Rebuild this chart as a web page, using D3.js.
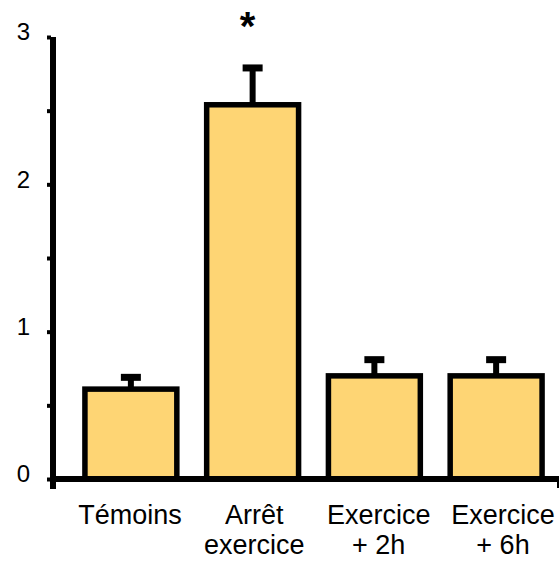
<!DOCTYPE html>
<html><head><meta charset="utf-8">
<script src="https://cdn.jsdelivr.net/npm/d3@7"></script>
<style>body{margin:0;background:#fff}svg{display:block}text{font-family:"Liberation Sans",Arial,sans-serif}</style>
</head><body>
<svg id="chart" width="560" height="561"></svg>
<script>
const categories = [["Témoins"], ["Arrêt", "exercice"], ["Exercice", "+ 2h"], ["Exercice", "+ 6h"]];
const values = [0.61, 2.54, 0.70, 0.70];
const errors = [0.08, 0.25, 0.11, 0.11];
const significant = [false, true, false, false];
const yTicks = [0, 0.5, 1, 1.5, 2, 2.5, 3];
const yTickLabels = ["0", "", "1", "", "2", "", "3"];

const svg = d3.select("#chart");
const y = d3.scaleLinear().domain([0, 3]).range([479, 37]);
const x = d3.scaleBand().domain(d3.range(categories.length)).range([70, 557]).paddingInner(0.2).paddingOuter(0.1);
const xLab = d3.scalePoint().domain(d3.range(categories.length)).range([130, 503]);
const sw = 5.5;

// bars
svg.selectAll("rect.bar").data(values).join("rect")
  .attr("class", "bar")
  .attr("x", (d, i) => x(i) + sw / 2)
  .attr("width", x.bandwidth() - sw)
  .attr("y", d => y(d))
  .attr("height", d => y(0) - y(d))
  .attr("fill", "#FED574").attr("stroke", "#000").attr("stroke-width", sw);

// error bars
const eb = svg.selectAll("g.err").data(values).join("g").attr("class", "err");
eb.append("line")
  .attr("x1", (d, i) => x(i) + x.bandwidth() / 2).attr("x2", (d, i) => x(i) + x.bandwidth() / 2)
  .attr("y1", d => y(d)).attr("y2", (d, i) => y(d + errors[i]))
  .attr("stroke", "#000").attr("stroke-width", 6);
eb.append("line")
  .attr("x1", (d, i) => x(i) + x.bandwidth() / 2 - 10).attr("x2", (d, i) => x(i) + x.bandwidth() / 2 + 10)
  .attr("y1", (d, i) => y(d + errors[i])).attr("y2", (d, i) => y(d + errors[i]))
  .attr("stroke", "#000").attr("stroke-width", 7);

// significance star
svg.selectAll("text.star").data(significant.map((s, i) => s ? i : -1).filter(i => i >= 0))
  .join("text").attr("class", "star")
  .attr("x", i => x(i) + x.bandwidth() / 2 - 5)
  .attr("y", 40)
  .attr("text-anchor", "middle").attr("font-size", 40).attr("font-weight", "bold").text("*");

// y axis
const yAxis = d3.axisLeft(y).tickValues(yTicks).tickSize(4).tickFormat((d, i) => yTickLabels[i]);
const gy = svg.append("g").attr("transform", "translate(51,0)").call(yAxis);
gy.select(".domain").remove();
gy.selectAll(".tick line").attr("stroke", "#000").attr("stroke-width", 4);
gy.selectAll(".tick text").attr("x", -21).attr("dy", "0.32em").attr("transform", "translate(0,-5)")
  .attr("font-size", 24).attr("fill", "#000");
svg.append("line").attr("x1", 53).attr("x2", 53).attr("y1", y(3)).attr("y2", y(0) + 10)
  .attr("stroke", "#000").attr("stroke-width", 6);

// x axis
svg.append("line").attr("x1", 50).attr("x2", 559).attr("y1", y(0)).attr("y2", y(0))
  .attr("stroke", "#000").attr("stroke-width", 6);
svg.append("line").attr("x1", 558).attr("x2", 558).attr("y1", y(0)).attr("y2", y(0) + 9)
  .attr("stroke", "#000").attr("stroke-width", 2);

// category labels
const lab = svg.selectAll("text.cat").data(categories).join("text").attr("class", "cat")
  .attr("text-anchor", "middle").attr("font-size", 27).attr("fill", "#000");
lab.selectAll("tspan").data((d, i) => d.map(t => ({t, i}))).join("tspan")
  .attr("x", d => xLab(d.i))
  .attr("y", (d, j) => 524 + j * 30)
  .text(d => d.t);
</script>
</body></html>
